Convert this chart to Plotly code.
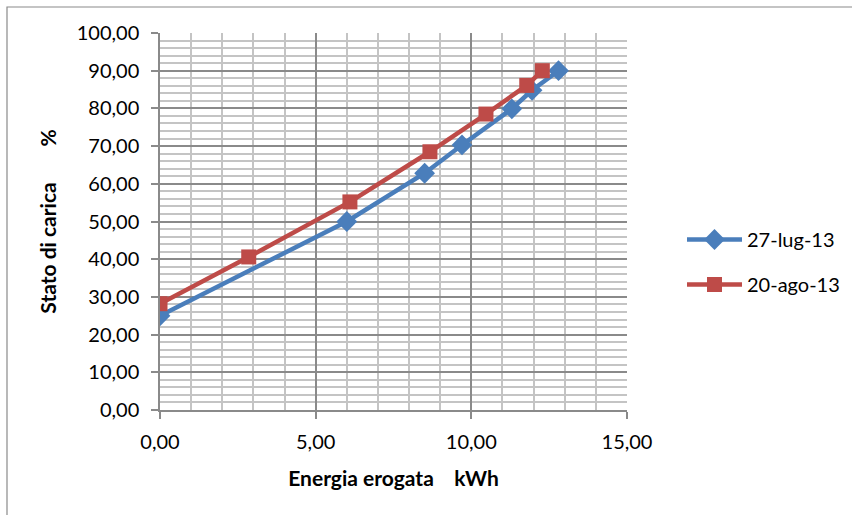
import plotly.graph_objects as go

series1_name = "27-lug-13"
series1_x = [0.0, 6.0, 8.5, 9.7, 11.3, 11.95, 12.8]
series1_y = [25.0, 50.0, 62.8, 70.3, 79.9, 84.8, 90.0]

series2_name = "20-ago-13"
series2_x = [0.0, 2.85, 6.1, 8.67, 10.47, 11.78, 12.28]
series2_y = [28.2, 40.6, 55.2, 68.5, 78.5, 86.1, 90.0]

x_ticks = [0, 5, 10, 15]
x_ticklabels = ["0,00", "5,00", "10,00", "15,00"]
y_ticks = [0, 10, 20, 30, 40, 50, 60, 70, 80, 90, 100]
y_ticklabels = ["0,00", "10,00", "20,00", "30,00", "40,00", "50,00",
                "60,00", "70,00", "80,00", "90,00", "100,00"]

FONT = "Lato, Open Sans, sans-serif"
BLUE = "#4A7EBB"
RED = "#BE4B48"

fig = go.Figure()
fig.add_trace(go.Scatter(x=series1_x, y=series1_y, name=series1_name, mode="lines+markers",
                         legendgroup="a",
                         line=dict(color=BLUE, width=4.5),
                         marker=dict(symbol="diamond", size=16, color=BLUE)))
fig.add_trace(go.Scatter(x=series2_x, y=series2_y, name=series2_name, mode="lines+markers",
                         legendgroup="b",
                         line=dict(color=RED, width=4.5),
                         marker=dict(symbol="square", size=15, color=RED)))

L, R, T, B = 160, 225, 33, 105
W, H = 852, 515
pw, ph = W - L - R, H - T - B

fig.update_layout(
    width=W, height=H,
    margin=dict(l=L, r=R, t=T, b=B, autoexpand=False),
    paper_bgcolor="white", plot_bgcolor="white",
    font=dict(family=FONT, size=20, color="#000000"),
    legend=dict(x=(682 - L) / pw, y=(410 - 262) / ph, xanchor="left", yanchor="middle",
                font=dict(size=20), tracegroupgap=16, itemwidth=55,
                bgcolor="rgba(0,0,0,0)"),
    xaxis=dict(range=[0, 15], tickvals=x_ticks, ticktext=x_ticklabels,
               showgrid=True, gridcolor="#8a8a8a", gridwidth=1.5,
               minor=dict(dtick=1, showgrid=True, gridcolor="#c4c4c4", gridwidth=2,
                          ticks=""),
               ticks="outside", ticklen=7, tickcolor="#8a8a8a", tickwidth=1.5,
               ticklabelstandoff=6,
               showline=True, linecolor="#8a8a8a", linewidth=1.5,
               zeroline=False,
               title=dict(text="Energia erogata    kWh", standoff=20,
                          font=dict(size=21, family=FONT, weight="bold"))),
    yaxis=dict(range=[0, 100], tickvals=y_ticks, ticktext=y_ticklabels,
               showgrid=True, gridcolor="#8a8a8a", gridwidth=1.5,
               minor=dict(dtick=2, showgrid=True, gridcolor="#c4c4c4", gridwidth=2,
                          ticks=""),
               ticks="outside", ticklen=7, tickcolor="#8a8a8a", tickwidth=1.5,
               ticklabelstandoff=8,
               showline=True, linecolor="#8a8a8a", linewidth=1.5,
               zeroline=False,
               title=dict(text="Stato di carica       %", standoff=14,
                          font=dict(size=21, family=FONT, weight="bold"))),
    showlegend=True,
)

# outer chart border (visible on left and top)
fig.add_shape(type="rect", xref="paper", yref="paper",
              x0=(7 - L) / pw, x1=(860 - L) / pw,
              y0=(410 - 520) / ph, y1=(410 - 7) / ph,
              line=dict(color="#8a8a8a", width=1.2), layer="below")

fig.write_html("out.html")
